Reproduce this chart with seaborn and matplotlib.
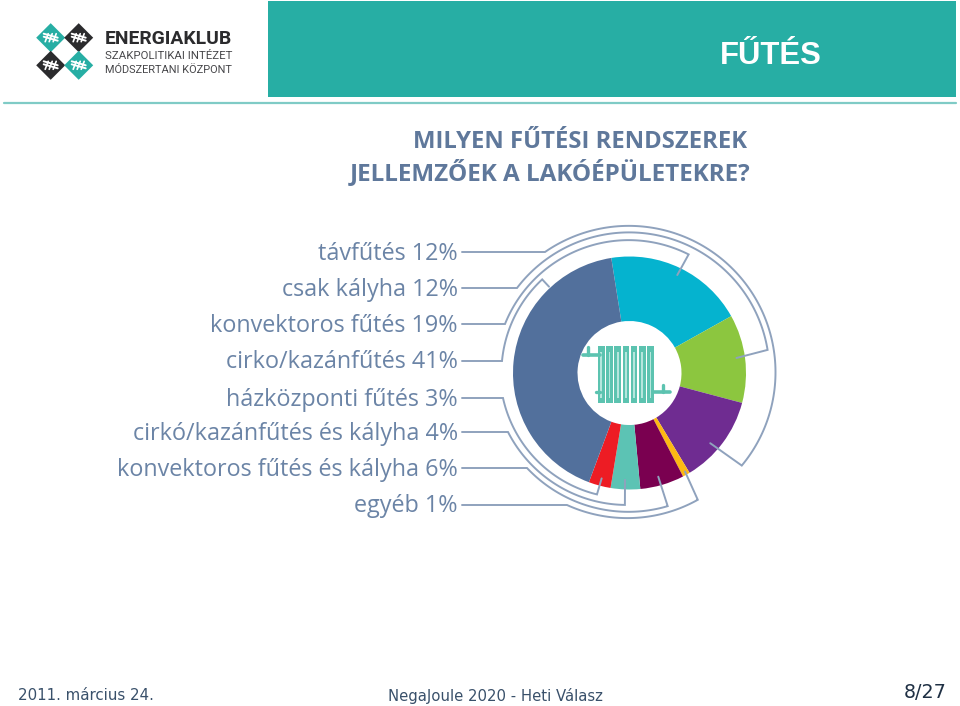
import numpy as np
import matplotlib
matplotlib.use("Agg")
import matplotlib.pyplot as plt
import seaborn as sns
from matplotlib.patches import Polygon, Rectangle

# adatok
labels = ["távfűtés 12%", "csak kályha 12%", "konvektoros fűtés 19%", "cirko/kazánfűtés 41%",
          "házközponti fűtés 3%", "cirkó/kazánfűtés és kályha 4%",
          "konvektoros fűtés és kályha 6%", "egyéb 1%"]
slice_values = [19, 12, 12, 1, 6, 4, 3, 41]
slice_colors = ["#05b3cf", "#8cc63f", "#6f2c91", "#fdb813", "#7a0050", "#5cc3b4", "#ed1c24", "#52709c"]
title_lines = ["MILYEN FŰTÉSI RENDSZEREK", "JELLEMZŐEK A LAKÓÉPÜLETEKRE?"]
header = "FŰTÉS"
footer_date = "2011. március 24."
footer_mid = "NegaJoule 2020 - Heti Válasz"
page = "8/27"

W, H = 960, 706
CX, CY = 629.5, 373
TXT = "#6b84a6"
LINE = "#8fa2bd"
TEAL = "#27aea4"


def fy(y):
    return H - y


sns.set_theme(style="white")
plt.rcParams["font.family"] = ["DejaVu Sans"]

fig = plt.figure(figsize=(9.6, 7.06), dpi=100)
ax = fig.add_axes([0, 0, 1, 1])

# fejléc
ax.add_patch(Rectangle((268, fy(97)), 688, 96, color=TEAL, lw=0))
ax.plot([4, 956], [fy(102.5), fy(102.5)], color="#7fcbc6", lw=1.6)
ax.text(771, fy(55.5), header, color="white", fontsize=22.3, fontweight="bold",
        family="Liberation Sans", ha="center", va="center")

# logó
for (lx, ly), col in zip([(50.7, 37.7), (78.7, 37.7), (50.7, 65.3), (78.7, 65.3)],
                         [TEAL, "#2b2b2d", "#2b2b2d", TEAL]):
    ax.add_patch(Polygon([(lx - 14.5, fy(ly)), (lx, fy(ly - 14.5)), (lx + 14.5, fy(ly)), (lx, fy(ly + 14.5))],
                         color=col, lw=0))
    ax.plot([lx - 7, lx + 7], [fy(ly - 1), fy(ly + 3)], color="white", lw=1.4)
    ax.plot([lx - 7, lx + 7], [fy(ly - 4), fy(ly)], color="white", lw=1.4)
    for d in (-4, 0, 4):
        ax.plot([lx + d - 1.5, lx + d + 1.5], [fy(ly + 4), fy(ly - 4)], color="white", lw=1.2)
ax.text(105, fy(38.5), "ENERGIAKLUB", color="#2b2b2d", fontsize=13.9, fontweight="bold",
        family="Roboto", va="center")
ax.text(105, fy(56), "SZAKPOLITIKAI INTÉZET", color="#47474a", fontsize=8.2, family="Roboto", va="center")
ax.text(105, fy(70), "MÓDSZERTANI KÖZPONT", color="#47474a", fontsize=7.9, family="Roboto", va="center")

# cím
ax.text(413, fy(142), title_lines[0], color="#5f789b", fontsize=17.2, fontweight="bold",
        family="Open Sans", va="center")
ax.text(350, fy(173), title_lines[1], color="#5f789b", fontsize=17.45, fontweight="bold",
        family="Open Sans", va="center")

# kördiagram
ax.pie(slice_values, colors=slice_colors, startangle=99, counterclock=False,
       center=(CX, fy(CY)), radius=116.5, frame=True,
       wedgeprops=dict(width=116.5 - 52, linewidth=0))

# feliratok és vonalak: címke y, ív eleje, ív vége (sugár, szög), csúcs (sugár, szög)
label_y = [252, 288, 324, 361, 398, 432, 468, 505]
start_x = [545, 517, 505, 502, 503, 508, 527, 567]
end_r = [145.5, 140, 132.5, 128, 125.7, 132, 138.5, 144]
end_ang = [-39.5, 9.5, 63.5, 133, -105, -92, -74, -61.7]
tip_r = [107, 108, 109, 118, 109, 107, 107.6, 113]
tip_ang = [-41, 8, 64, 133, -104.8, -92.4, -74.5, -60.6]

for lab, y, sx, er, ea, tr, ta in zip(labels, label_y, start_x, end_r, end_ang, tip_r, tip_ang):
    ax.text(458, fy(y + 1.5), lab, color=TXT, fontsize=16.85, family="Open Sans", ha="right", va="center")
    dx, dy = sx - CX, CY - y
    r0 = np.hypot(dx, dy)
    a0 = np.degrees(np.arctan2(dy, dx))
    if a0 < 0:
        a0 += 360
    a1 = ea if y < 373 or ea > 0 else ea + 360
    aa = np.radians(np.linspace(a0, a1, 120))
    rr = np.linspace(r0, er, 120)
    xs = np.r_[462, CX + rr * np.cos(aa), CX + tr * np.cos(np.radians(ta))]
    ys = np.r_[fy(y), fy(CY) + rr * np.sin(aa), fy(CY) + tr * np.sin(np.radians(ta))]
    ax.plot(xs, ys, color=LINE, lw=1.4, solid_joinstyle="miter")

# radiátor ikon
RAD = "#5cc3b0"
for x in np.arange(598, 652, 8.2):
    ax.add_patch(Rectangle((x, fy(403)), 6.6, 57, color=RAD, lw=0))
    ax.add_patch(Rectangle((x + 2.4, fy(398)), 1.8, 46, color="#b5e6dd", lw=0))
ax.plot([583, 600], [fy(355), fy(355)], color=RAD, lw=2.6)
ax.plot([588, 588], [fy(347), fy(355)], color=RAD, lw=2.4)
ax.plot([596, 600], [fy(392), fy(392)], color=RAD, lw=2.4)
ax.plot([653, 670], [fy(392), fy(392)], color=RAD, lw=2.6)
ax.plot([663, 663], [fy(385), fy(392)], color=RAD, lw=2.4)

# lábléc
ax.text(18, fy(695.5), footer_date, color="#39506a", fontsize=10.8, va="center")
ax.text(495, fy(696), footer_mid, color="#39506a", fontsize=10.7, ha="center", va="center")
ax.text(925, fy(692.5), page, color="#1f3044", fontsize=13.8, ha="center", va="center")

ax.set_xlim(0, W)
ax.set_ylim(0, H)
ax.set_aspect("auto")
ax.set_axis_off()
fig.savefig("out.png", dpi=100)
